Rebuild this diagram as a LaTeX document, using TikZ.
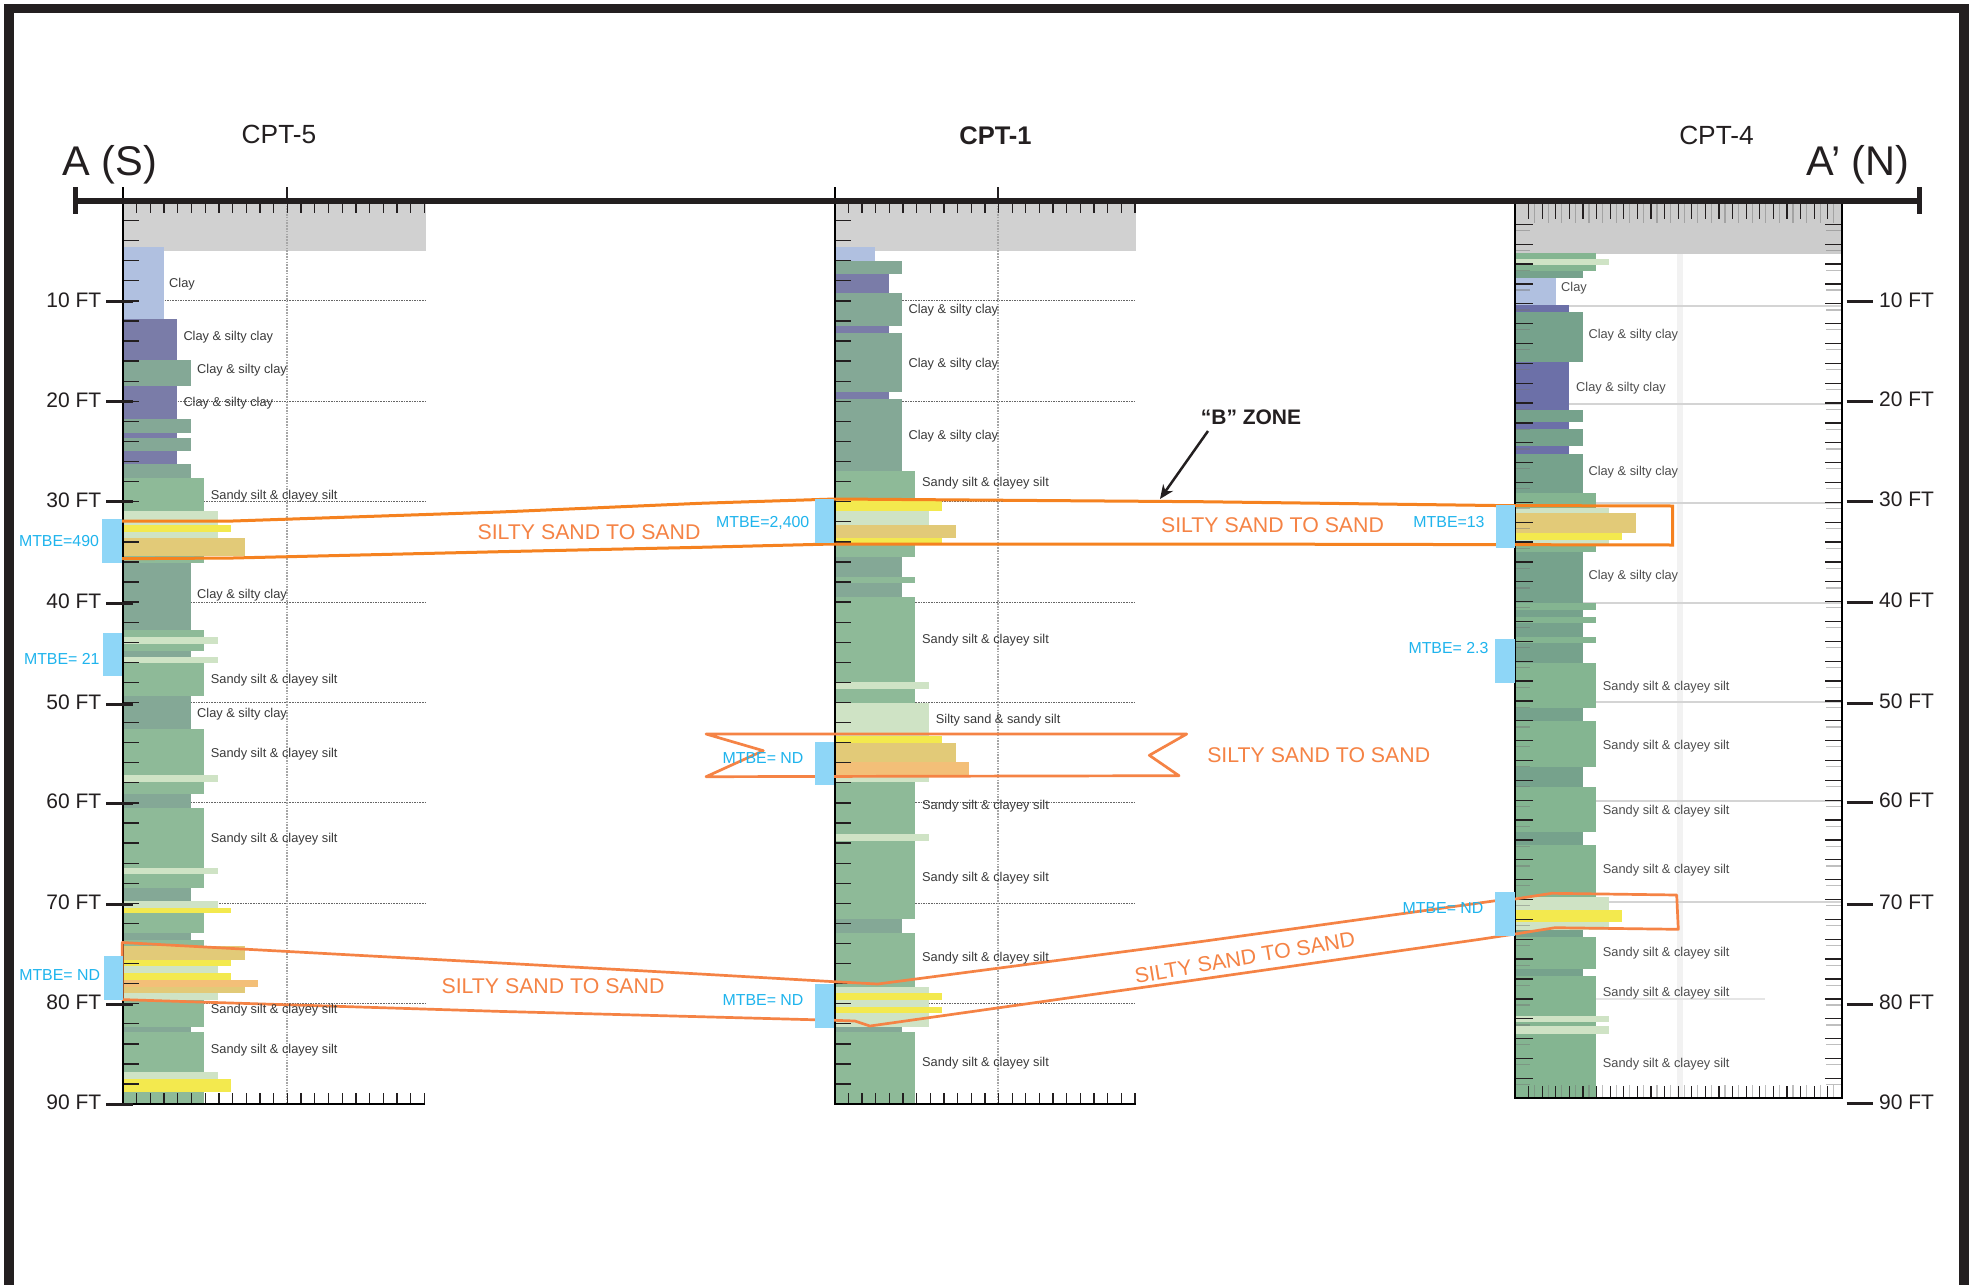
\documentclass[tikz,border=0pt]{standalone}
\usepackage{fontspec}
\setmainfont{Liberation Sans}
\usetikzlibrary{arrows.meta}
\definecolor{ink}{HTML}{231F20}
\definecolor{blu}{HTML}{B0C0E0}
\definecolor{pur}{HTML}{7A7CA8}
\definecolor{gg}{HTML}{84A896}
\definecolor{grn}{HTML}{8EBA98}
\definecolor{lgt}{HTML}{CFE3C5}
\definecolor{yel}{HTML}{F3E94E}
\definecolor{tanb}{HTML}{E2CA78}
\definecolor{org}{HTML}{F3BF78}
\definecolor{mtbe}{HTML}{8ED6F7}
\definecolor{mtxt}{HTML}{1FB4ED}
\definecolor{band}{HTML}{F58345}
\definecolor{bandb}{HTML}{F58220}
\definecolor{soil}{HTML}{3A3A3A}
\def\lvblu{3}\def\lvpur{4}\def\lvgg{5}\def\lvgrn{6}\def\lvlgt{7}\def\lvyel{8}\def\lvtanb{9}\def\lvorg{10}
\newcommand\cptLayers[3]{%
  \foreach \c/\t/\b in {#3}{
    \pgfmathsetmacro\wd{#2*\csname lv\c\endcsname}
    \fill[\c] (#1,\t) rectangle ++(\wd,\b-\t);
  }}
\tikzset{
  soillab/.style={anchor=west,inner sep=0pt,yshift=-1.3pt,text=soil,font=\fontsize{12.8}{14}\selectfont},
  soilblur/.style={anchor=west,inner sep=0pt,yshift=-1pt,text=soil,opacity=.9,font=\fontsize{12.8}{14}\selectfont},
  depth/.style={inner sep=0pt,yshift=-1pt,text=ink,font=\fontsize{21}{24}\selectfont},
  mtbelab/.style={inner sep=0pt,text=mtxt,font=\fontsize{15.9}{18}\selectfont},
  bandlab/.style={inner sep=0pt,text=band,font=\fontsize{21.3}{24}\selectfont},
  coltitle/.style={inner sep=0pt,text=ink,font=\fontsize{26.3}{30}\selectfont},
  endtitle/.style={inner sep=0pt,text=ink,font=\fontsize{41.5}{46}\selectfont},
  tick/.style={draw=ink,line width=1.3pt},
  gtick/.style={draw=black!55,opacity=.45,line width=1.2pt},
  dtick/.style={draw=ink,line width=3pt},
  axisl/.style={draw=black,line width=2pt},
  griddot/.style={draw=black!60,line width=.9pt,dash pattern=on 1.6pt off 1pt},
  cdot/.style={draw=black!35,line width=1.1pt,dash pattern=on 1.6pt off 1.2pt},
  bandline/.style={draw=band,line width=2.7pt,line join=round},
  bandlineb/.style={draw=bandb,line width=3pt,line join=miter},
}
\begin{document}
\begin{tikzpicture}[x=1pt,y=-1pt]
\useasboundingbox (0,0) rectangle (1979,1285);
\fill[white] (0,0) rectangle (1979,1285);
% frame
\fill[ink] (4,4) rectangle (1969,13.3);
\fill[ink] (4,4) rectangle (14,1285);
\fill[ink] (1959,4) rectangle (1969,1285);
% faint centre line and grey bands
\draw[black!5,line width=6pt] (1680,205) -- (1680,1098);
\fill[black!18] (123,200) rectangle (426,250.7);
\fill[black!18] (834.7,200) rectangle (1136,250.7);
\fill[black!20] (1515,203) rectangle (1842,254);
% grids
\foreach \d in {10,20,...,80}{
  \draw[griddot] (123,{200.5+\d*10.04}) -- (426,{200.5+\d*10.04});
  \draw[griddot] (834.7,{200.5+\d*10.04}) -- (1136,{200.5+\d*10.04});
}
\draw[cdot] (287,200) -- (287,1104);
\draw[cdot] (998,200) -- (998,1104);
\foreach \y in {306,404,503,603,702,801,902}{\draw[black!17,line width=1.8pt] (1555,\y) -- (1842,\y);}
\draw[black!10,line width=1.5pt] (1595,999) -- (1765,999);
% CPT-5 layers
\cptLayers{123}{13.5}{blu/247/319,pur/319/360,gg/360/385.7,pur/385.7/419.3,gg/419.3/432.7,pur/432.7/438.3,gg/438.3/450.7,pur/450.7/464.3,gg/464.3/477.7,grn/477.7/511.3,lgt/511.3/524.7,yel/524.7/531.7,lgt/531.7/538.3,tanb/538.3/556.3,grn/556.3/563.3,gg/563.3/630,grn/630/637,lgt/637/644,grn/644/650.7,gg/650.7/657,lgt/657/663,grn/663/695.7,gg/695.7/729,grn/729/775.4,lgt/775.4/782,grn/782/794.3,gg/794.3/807.9,grn/807.9/867.5,lgt/867.5/874.3,grn/874.3/887.5,gg/887.5/901,lgt/901/907.9,yel/907.9/912.5,grn/912.5/932.9,gg/932.9/939.6,grn/939.6/946.4,tanb/946.4/959.6,yel/959.6/966.4,lgt/966.4/972.9,yel/972.9/980,org/980/986.8,tanb/986.8/993.2,lgt/993.2/1000,grn/1000/1027.1,gg/1027.1/1032,grn/1032/1072,lgt/1072/1079,yel/1079/1092,grn/1092/1104}
% CPT-1 layers
\cptLayers{835}{13.4}{blu/247.3/261,gg/261/274.3,pur/274.3/293.3,gg/293.3/326,pur/326/333,gg/333/392,pur/392/399,gg/399/471,grn/471/499,yel/499/511.3,lgt/511.3/525,tanb/525/538.3,yel/538.3/543.3,grn/543.3/556.7,gg/556.7/576.7,grn/576.7/583.3,gg/583.3/597,grn/597/682.3,lgt/682.3/689,grn/689/702.7,lgt/702.7/736,yel/736/742.7,tanb/742.7/762,org/762/775,lgt/775/782,grn/782/834,lgt/834/840.7,grn/840.7/919.3,gg/919.3/933,grn/933/986.7,lgt/986.7/993.3,yel/993.3/1000,lgt/1000/1006.7,yel/1006.7/1013.3,lgt/1013.3/1027,gg/1027/1031.7,grn/1031.7/1104.3}
% CPT-4 layers
\definecolor{grn}{HTML}{84B591}
\definecolor{gg}{HTML}{76A28C}
\definecolor{pur}{HTML}{6C70A8}
\cptLayers{1516}{13.3}{grn/252.7/259.3,lgt/259.3/265,grn/265/271,gg/271/278.3,blu/278.3/305,pur/305/311.7,gg/311.7/362.3,pur/362.3/409.7,gg/409.7/421.7,pur/421.7/429,gg/429/446,pur/446/454.3,gg/454.3/493.3,grn/493.3/508.3,lgt/508.3/513.3,tanb/513.3/533.3,yel/533.3/540,lgt/540/544.3,grn/544.3/551.7,gg/551.7/603.3,grn/603.3/610,gg/610/617.3,grn/617.3/623.3,gg/623.3/637.3,grn/637.3/643.3,gg/643.3/663.3,grn/663.3/708.3,gg/708.3/721,grn/721/767.3,gg/767.3/787.3,grn/787.3/832.3,gg/832.3/845,grn/845/897.3,lgt/897.3/910,yel/910/922.3,lgt/922.3/930,gg/930/936.7,grn/936.7/969,gg/969/975.7,grn/975.7/1016,lgt/1016/1021.7,grn/1021.7/1026,lgt/1026/1034,grn/1034/1098.3}
% ticks CPT-5 and CPT-1
\foreach \k in {1,...,44}{
  \draw[tick] (123,{200.5+\k*20.08}) -- ++(16,0);
  \draw[tick] (834.7,{200.5+\k*20.08}) -- ++(16,0);
}
\foreach \k in {1,...,22}{
  \draw[tick] ({123+\k*13.7},203) -- ++(0,10);
  \draw[tick] ({123+\k*13.7},1104) -- ++(0,-11);
  \draw[tick] ({834.7+\k*13.65},203) -- ++(0,10);
  \draw[tick] ({834.7+\k*13.65},1104) -- ++(0,-11);
}
% ticks CPT-4
\foreach \k in {0,...,43}{
  \draw[gtick] (1516,{230.5+\k*19.86}) -- ++(14,0);
  \draw[gtick] (1826,{230.5+\k*19.86}) -- ++(15,0);
  \draw[tick] (1515,{224.3+\k*19.86}) -- ++(18,0);
  \draw[tick] (1825,{224.3+\k*19.86}) -- ++(16.7,0);
}
\foreach \k in {1,...,23}{
  \draw[gtick] ({1521+\k*13.6},204) -- ++(0,19);
  \draw[gtick] ({1521+\k*13.6},1098) -- ++(0,-13);
  \draw[tick] ({1515+\k*13.6},204) -- ++(0,15);
  \draw[tick] ({1515+\k*13.6},1098) -- ++(0,-12);
}
% axes
\draw[axisl] (123,187) -- (123,1104) -- (425,1104);
\draw[axisl] (834.7,187) -- (834.7,1104.3) -- (1136,1104.3);
\draw[axisl] (1515,203) -- (1515,1098.3) -- (1841.7,1098.3) -- (1841.7,203);
\draw[ink,line width=1.6pt] (287,187) -- (287,200);
\draw[ink,line width=1.6pt] (998,187) -- (998,200);
\draw[ink,line width=6pt] (75,200.5) -- (1919,200.5);
\draw[ink,line width=5pt] (75.5,187) -- (75.5,214);
\draw[ink,line width=5pt] (1919.5,187) -- (1919.5,214);
% depth ticks
\foreach \y in {301.7,401.7,501.7,603,704,803,904,1004,1104}{\draw[dtick] (106,\y) -- (133,\y);}
\foreach \y in {301.7,401,501,602,703,802,904,1004,1103.7}{\draw[dtick] (1846.7,\y) -- (1872.7,\y);}
% orange correlation bands
\draw[bandlineb] (122,521) -- (233,521) -- (500,512) -- (700,503.3) -- (835,499) -- (1200,501.7) -- (1495,505.5) -- (1672.7,506) -- (1672.7,545) -- (1200,544) -- (833,544) -- (700,547.3) -- (500,551.7) -- (233,558) -- (122,558.7);
\draw[bandline] (706,734) -- (1186.7,734) -- (1149.3,755.3) -- (1179,775.7) -- (706,776.7) -- (763.3,750.7) -- cycle;
\draw[bandline] (122.3,942.5) -- (500,963) -- (700,974) -- (834.3,981.7) -- (877.7,984) -- (1200,941.7) -- (1495.7,900.7) -- (1515,899) -- (1551.7,893.3) -- (1676.7,895) -- (1678.3,929.3) -- (1555,927.7) -- (1515,934) -- (1480,939.3) -- (1200,979.3) -- (870,1026) -- (855,1021) -- (834.3,1020.3) -- (700,1016.7) -- (500,1011.4) -- (122.3,999.6) -- cycle;
% MTBE boxes
\foreach \xa/\ya/\yb in {102.3/519.3/563.3,103/632.5/676.4,103.7/956/999.6,815/499.3/543.3,815/741.7/785.3,815/984/1027.7,1496/505/548.3,1495.3/639/682.7,1495.3/892.3/936}{
  \fill[mtbe] (\xa,\ya) rectangle ++(19.3,\yb-\ya);
}
% titles
\node[endtitle] (aS) at (110,165) {A (S)};
\node[endtitle] (aN) at (1858,165) {A’ (N)};
\node[coltitle] (cpt5) at (279,134) {CPT-5};
\node[coltitle,font=\fontsize{25.5}{30}\selectfont\bfseries] (cpt1) at (995.5,136) {CPT-1};
\node[coltitle] (cpt4) at (1716.5,135) {CPT-4};
% depth labels
\node[depth,anchor=east] (l10) at (101.5,299) {10 FT};
\node[depth,anchor=east] (l20) at (101.5,399.5) {20 FT};
\node[depth,anchor=east] (l30) at (101.5,499.5) {30 FT};
\node[depth,anchor=east] (l40) at (101.5,600.5) {40 FT};
\node[depth,anchor=east] (l50) at (101.5,701.5) {50 FT};
\node[depth,anchor=east] (l60) at (101.5,800.5) {60 FT};
\node[depth,anchor=east] (l70) at (101.5,901.5) {70 FT};
\node[depth,anchor=east] (l80) at (101.5,1001.5) {80 FT};
\node[depth,anchor=east] (l90) at (101.5,1101.5) {90 FT};
\node[depth,anchor=west] (r10) at (1879,299) {10 FT};
\node[depth,anchor=west] (r20) at (1879,398.5) {20 FT};
\node[depth,anchor=west] (r30) at (1879,498.5) {30 FT};
\node[depth,anchor=west] (r40) at (1879,599.5) {40 FT};
\node[depth,anchor=west] (r50) at (1879,700.5) {50 FT};
\node[depth,anchor=west] (r60) at (1879,799.5) {60 FT};
\node[depth,anchor=west] (r70) at (1879,901.5) {70 FT};
\node[depth,anchor=west] (r80) at (1879,1001.5) {80 FT};
\node[depth,anchor=west] (r90) at (1879,1101.5) {90 FT};
% CPT-5 labels
\node[soillab] (a1) at (169,282.7) {Clay};
\node[soillab] (a2) at (183.3,336) {Clay \& silty clay};
\node[soillab] (a3) at (197,369.3) {Clay \& silty clay};
\node[soillab] (a4) at (183.3,401.7) {Clay \& silty clay};
\node[soillab] (a5) at (210.7,495) {Sandy silt \& clayey silt};
\node[soillab] (a6) at (197,593.6) {Clay \& silty clay};
\node[soillab] (a7) at (210.7,679) {Sandy silt \& clayey silt};
\node[soillab] (a8) at (197,712.5) {Clay \& silty clay};
\node[soillab] (a9) at (210.7,752.5) {Sandy silt \& clayey silt};
\node[soillab] (a10) at (210.7,837.9) {Sandy silt \& clayey silt};
\node[soillab] (a11) at (210.7,1008.6) {Sandy silt \& clayey silt};
\node[soillab] (a12) at (210.7,1048.6) {Sandy silt \& clayey silt};
% CPT-1 labels
\node[soillab] (b1) at (908.3,309.3) {Clay \& silty clay};
\node[soillab] (b2) at (908.3,363) {Clay \& silty clay};
\node[soillab] (b3) at (908.3,435) {Clay \& silty clay};
\node[soillab] (b4) at (922,481.7) {Sandy silt \& clayey silt};
\node[soillab] (b5) at (922,639.3) {Sandy silt \& clayey silt};
\node[soillab] (b6) at (935.7,719.3) {Silty sand \& sandy silt};
\node[soillab] (b7) at (922,804.7) {Sandy silt \& clayey silt};
\node[soillab] (b8) at (922,876.7) {Sandy silt \& clayey silt};
\node[soillab] (b9) at (922,956.7) {Sandy silt \& clayey silt};
\node[soillab] (b10) at (922,1062.3) {Sandy silt \& clayey silt};
% CPT-4 labels
\node[soilblur] (c1) at (1561,287.3) {Clay};
\node[soilblur] (c2) at (1588.3,334) {Clay \& silty clay};
\node[soilblur] (c3) at (1576,386.7) {Clay \& silty clay};
\node[soilblur] (c4) at (1588.3,470.7) {Clay \& silty clay};
\node[soilblur] (c5) at (1588.3,575) {Clay \& silty clay};
\node[soilblur] (c6) at (1602.7,686) {Sandy silt \& clayey silt};
\node[soilblur] (c7) at (1602.7,745) {Sandy silt \& clayey silt};
\node[soilblur] (c8) at (1602.7,810) {Sandy silt \& clayey silt};
\node[soilblur] (c9) at (1602.7,869) {Sandy silt \& clayey silt};
\node[soilblur] (c10) at (1602.7,952.3) {Sandy silt \& clayey silt};
\node[soilblur] (c11) at (1602.7,991.7) {Sandy silt \& clayey silt};
\node[soilblur] (c12) at (1602.7,1063.3) {Sandy silt \& clayey silt};
% MTBE labels
\node[mtbelab] (m1) at (59,540.7) {MTBE=490};
\node[mtbelab] (m2) at (61.8,658.6) {MTBE= 21};
\node[mtbelab] (m3) at (59.7,975.4) {MTBE= ND};
\node[mtbelab] (m4) at (762.7,522.7) {MTBE=2,400};
\node[mtbelab] (m5) at (763,757.7) {MTBE= ND};
\node[mtbelab] (m6) at (763,1000.3) {MTBE= ND};
\node[mtbelab] (m7) at (1449,522.5) {MTBE=13};
\node[mtbelab] (m8) at (1448.5,648.2) {MTBE= 2.3};
\node[mtbelab] (m9) at (1443,908) {MTBE= ND};
% band labels
\node[bandlab] (s1) at (589,532) {SILTY SAND TO SAND};
\node[bandlab] (s2) at (1272.5,525.5) {SILTY SAND TO SAND};
\node[bandlab] (s3) at (1318.7,755.2) {SILTY SAND TO SAND};
\node[bandlab] (s4) at (553,986) {SILTY SAND TO SAND};
\node[bandlab,rotate=9.6] (s5) at (1244.9,957.6) {SILTY SAND TO SAND};
% B zone
\node[inner sep=0pt,text=ink,font=\fontsize{21}{24}\selectfont\bfseries] (bz) at (1251,417) {“B” ZONE};
\coordinate (bs) at (1208,431);
\coordinate (bt) at (1160,499);
\draw[ink,line width=2.5pt,-{Stealth[length=14pt,width=12pt]}] (bs) -- (bt);
\end{tikzpicture}
\end{document}
